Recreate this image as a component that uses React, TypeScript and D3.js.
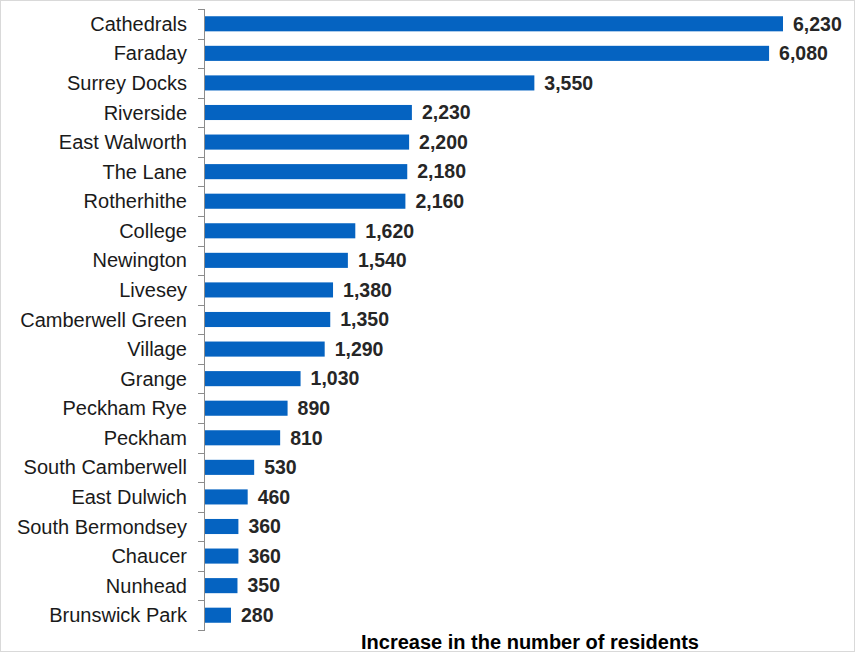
import React from "react";
import * as d3 from "d3";

const categories = [
  "Cathedrals", "Faraday", "Surrey Docks", "Riverside", "East Walworth", "The Lane",
  "Rotherhithe", "College", "Newington", "Livesey", "Camberwell Green", "Village",
  "Grange", "Peckham Rye", "Peckham", "South Camberwell", "East Dulwich",
  "South Bermondsey", "Chaucer", "Nunhead", "Brunswick Park",
];
const values = [6230, 6080, 3550, 2230, 2200, 2180, 2160, 1620, 1540, 1380, 1350, 1290, 1030, 890, 810, 530, 460, 360, 360, 350, 280];
const axisTitle = "Increase in the number of residents";

export default function App() {
  const W = 855, H = 652;
  const x0 = 205;
  const x = d3.scaleLinear().domain([0, 6230]).range([x0, 783]);
  const y = d3.scaleBand().domain(categories).range([9, 630]).paddingInner(0.49).paddingOuter(0.245);
  const band = d3.scaleBand().domain(categories).range([9, 630]);
  const fmt = d3.format(",");
  const font = "Liberation Sans, Arial, sans-serif";
  return (
    <svg width={W} height={H} style={{ position: "absolute", left: 0, top: 0 }}>
      <rect x={0.5} y={0.5} width={W - 1} height={H - 1} fill="white" stroke="#d9d9d9" />
      {categories.map((c, i) => (
        <g key={c}>
          <rect x={x0} y={y(c)!} width={x(values[i]) - x0} height={y.bandwidth()} fill="#0563C1" />
          <text x={187} y={band(c)! + band.bandwidth() / 2} dy="0.35em" textAnchor="end" fontFamily={font} fontSize={20} fill="#1a1a1a">{c}</text>
          <text x={x(values[i]) + 10} y={band(c)! + band.bandwidth() / 2} dy="0.35em" textAnchor="start" fontFamily={font} fontSize={19.5} fontWeight="bold" fill="#262626">{fmt(values[i])}</text>
        </g>
      ))}
      <line x1={x0 - 0.5} x2={x0 - 0.5} y1={9} y2={630} stroke="#8c8c8c" strokeWidth={1} />
      {d3.range(categories.length + 1).map((k) => {
        const yy = 9 + k * band.step();
        return <line key={k} x1={x0 - 7} x2={x0} y1={Math.round(yy) + 0.5} y2={Math.round(yy) + 0.5} stroke="#8c8c8c" />;
      })}
      <text x={530} y={641.5} dy="0.35em" textAnchor="middle" fontFamily={font} fontSize={20} fontWeight="bold" fill="#000">{axisTitle}</text>
    </svg>
  );
}
